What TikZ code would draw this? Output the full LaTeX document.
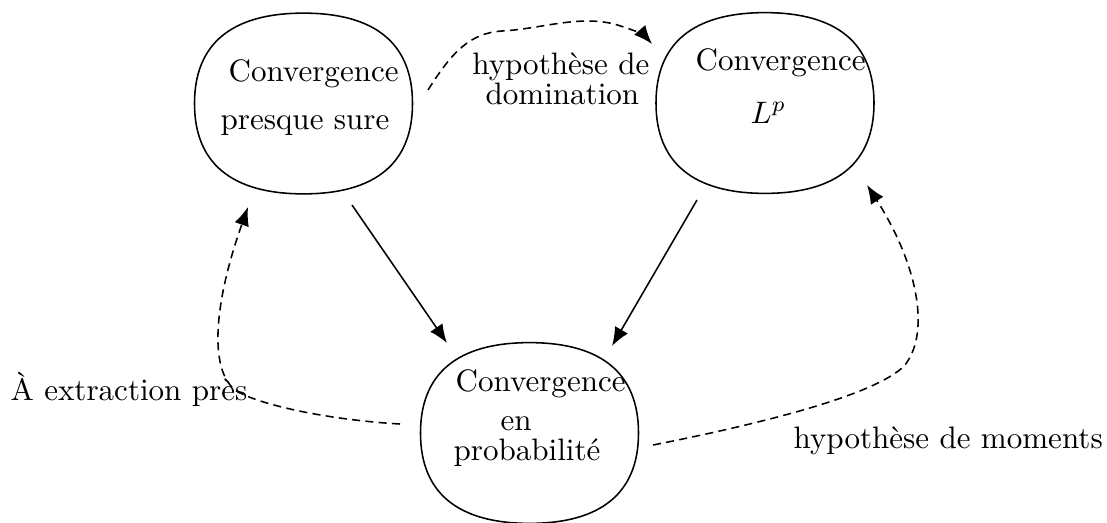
\documentclass[tikz,border=0pt]{standalone}
\usetikzlibrary{calc,arrows.meta}
\newcommand\blobk{0.66}
\newcommand\drawblob[1]{%
  \draw[blobline] (#1.north)
    .. controls ($(#1.north)!\blobk!(#1.north east)$) and ($(#1.east)!\blobk!(#1.north east)$) .. (#1.east)
    .. controls ($(#1.east)!\blobk!(#1.south east)$) and ($(#1.south)!\blobk!(#1.south east)$) .. (#1.south)
    .. controls ($(#1.south)!\blobk!(#1.south west)$) and ($(#1.west)!\blobk!(#1.south west)$) .. (#1.west)
    .. controls ($(#1.west)!\blobk!(#1.north west)$) and ($(#1.north)!\blobk!(#1.north west)$) .. cycle;}
\begin{document}
\begin{tikzpicture}[x=0.322pt,y=-0.322pt,
  blobframe/.style={draw=none, shape=rectangle, inner sep=0pt, minimum width=69.8pt, minimum height=57.8pt},
  blobline/.style={line width=0.5pt},
  lbl/.style={anchor=base west, inner sep=0pt},
  solidarrow/.style={line width=0.5pt, -{Latex[length=6pt,width=4.8pt]}},
  dasharrow/.style={line width=0.5pt, dash pattern=on 2.6pt off 1.7pt, -{Latex[length=6pt,width=4.8pt]}}]
\useasboundingbox (0,0) rectangle (1107,522);

% blobs
\node[blobframe] (as) at (303.5,103.5) {};
\node[blobframe] (lp) at (765,103) {};
\node[blobframe] (pr) at (529.5,433) {};
\drawblob{as}
\drawblob{lp}
\drawblob{pr}

% texts inside blobs
\node[lbl] (as1) at (228,81.7) {Convergence};
\node[lbl] (as2) at (220,129) {presque sure};
\node[lbl] (lp1) at (695,70.7) {Convergence};
\node[lbl] (lp2) at (750,123) {$L^p$};
\node[lbl] (pr1) at (455,391.7) {Convergence};
\node[lbl] (pr2) at (500,430) {en};
\node[lbl] (pr3) at (453,460) {probabilité};

% edge labels
\node[lbl] (hd1) at (471.7,74) {hypothèse de};
\node[lbl] (hd2) at (485,104) {domination};
\node[lbl] (ext) at (10,400) {À extraction près};
\node[lbl] (mom) at (793,448) {hypothèse de moments};

% connector endpoints
\coordinate (a1s) at (352,205);
\coordinate (a1e) at (447,343);
\coordinate (a2s) at (697,200);
\coordinate (a2e) at (612,346);
\coordinate (d1s) at (428,90);
\coordinate (d1e) at (652,44);
\coordinate (d2s) at (400,424);
\coordinate (d2e) at (248,207);
\coordinate (d3s) at (653,445);
\coordinate (d3e) at (867,185);

% solid arrows
\draw[solidarrow] (a1s) -- (a1e);
\draw[solidarrow] (a2s) -- (a2e);

% dashed arrows
\draw[dasharrow] (d1s) .. controls (452,52) and (470,33) .. (502,31)
  .. controls (540,29) and (578,15) .. (614,24)
  .. controls (632,29) and (645,36) .. (d1e);
\draw[dasharrow] (d2s) .. controls (330,420) and (258,405) .. (235,390)
  .. controls (208,368) and (215,300) .. (d2e);
\draw[dasharrow] (d3s) .. controls (780,420) and (880,392) .. (905,365)
  .. controls (932,330) and (915,260) .. (d3e);
\end{tikzpicture}
\end{document}
